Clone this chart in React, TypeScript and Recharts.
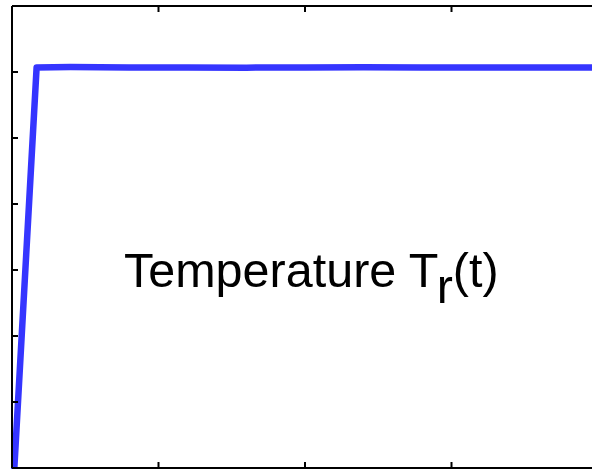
import { LineChart, Line, XAxis, YAxis } from 'recharts'

// time axis (no labels drawn, only tick marks)
const timeTicks = [0, 50, 100, 150, 200]
const tempTicks = [0, 50, 100, 150, 200, 250, 300, 350]

// sampled response T_r(t)
const times = [0.8, 8.4, 20, 40, 60, 80, 100, 120, 140, 160, 180, 200]
const temps = [0, 303.4, 303.7, 303.4, 303.5, 303.3, 303.5, 303.6, 303.4, 303.5, 303.4, 303.4]

const data = times.map((t, i) => ({ t, temp: temps[i] }))

const axisColor = '#000'
const lineColor = '#3535ff'

const axisLine = { stroke: axisColor, strokeWidth: 2 }
const tickLine = { stroke: axisColor, strokeWidth: 2 }

// keep the tick marks, drop the labels
const NoLabel = () => <g />

export default function App() {
  return (
    <div
      style={{
        position: 'absolute',
        left: 0,
        top: 0,
        width: 592,
        height: 469,
        overflow: 'hidden',
        background: '#fff',
      }}
    >
      <LineChart
        width={606}
        height={469}
        data={data}
        margin={{ top: 6, right: 8, left: 12, bottom: 1 }}
      >
        <XAxis
          dataKey="t"
          type="number"
          domain={[0, 200]}
          ticks={timeTicks}
          mirror
          tick={<NoLabel />}
          tickSize={6}
          axisLine={axisLine}
          tickLine={tickLine}
        />
        <XAxis
          xAxisId="top"
          orientation="top"
          dataKey="t"
          type="number"
          domain={[0, 200]}
          ticks={timeTicks}
          mirror
          tick={<NoLabel />}
          tickSize={6}
          axisLine={axisLine}
          tickLine={tickLine}
        />
        <YAxis
          type="number"
          domain={[0, 350]}
          ticks={tempTicks}
          mirror
          tick={<NoLabel />}
          tickSize={6}
          axisLine={axisLine}
          tickLine={tickLine}
        />
        <YAxis
          yAxisId="right"
          orientation="right"
          type="number"
          domain={[0, 350]}
          ticks={tempTicks}
          mirror
          tick={<NoLabel />}
          tickSize={6}
          axisLine={axisLine}
          tickLine={tickLine}
        />
        <Line
          dataKey="temp"
          type="linear"
          stroke={lineColor}
          strokeWidth={6.5}
          strokeLinejoin="round"
          strokeLinecap="round"
          dot={false}
          isAnimationActive={false}
        />
      </LineChart>
      <svg
        width={592}
        height={469}
        style={{ position: 'absolute', left: 0, top: 0, pointerEvents: 'none' }}
      >
        <text
          x={124}
          y={287}
          fontFamily="'Liberation Sans', Arial, sans-serif"
          fontSize={48.5}
          fill="#000"
        >
          Temperature T
          <tspan dy={16}>r</tspan>
          <tspan dy={-16}>(t)</tspan>
        </text>
      </svg>
    </div>
  )
}
